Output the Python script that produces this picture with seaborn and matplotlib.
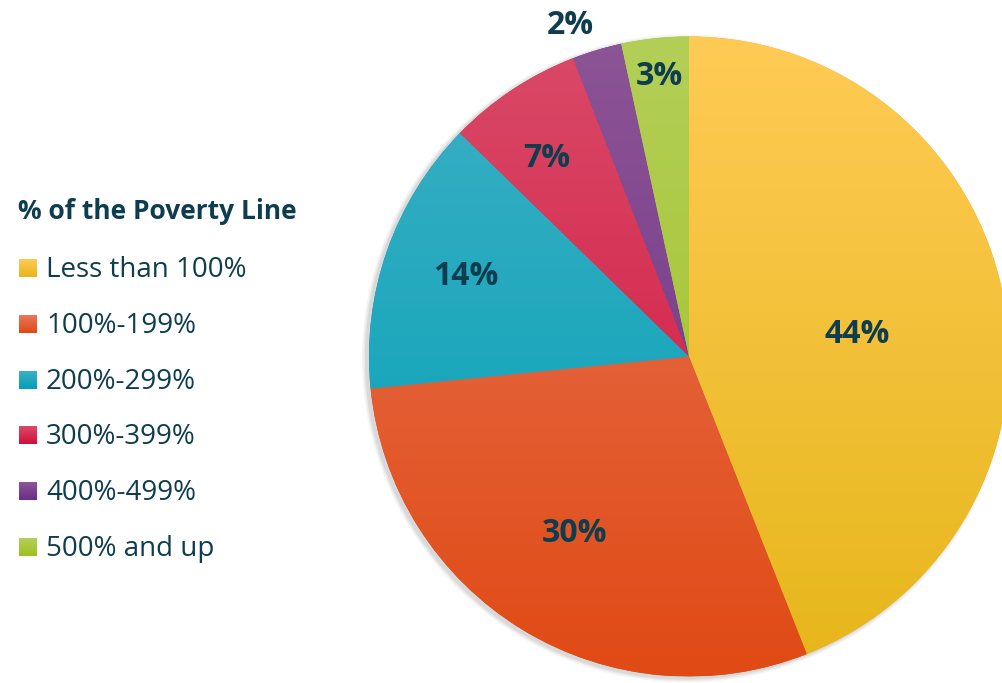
"""
Share of population by % of the poverty line - pie chart with legend.
"""

import numpy as np
import matplotlib.pyplot as plt
import seaborn as sns
from matplotlib.patches import Rectangle, Circle
from matplotlib.colors import LinearSegmentedColormap

sns.set_theme(style="white")
plt.rcParams['font.family'] = ['Open Sans', 'DejaVu Sans']

# Data (slice sizes, labels as printed)
categories = ["Less than 100%", "100%-199%", "200%-299%",
              "300%-399%", "400%-499%", "500% and up"]
shares = [44.0, 29.4, 13.9, 6.8, 2.5, 3.4]
pct_labels = ["44%", "30%", "14%", "7%", "2%", "3%"]
legend_title = "% of the Poverty Line"

# Gradient colours (top -> bottom) for each slice
top_colors = ["#FFCB55", "#E8765A", "#3DB0C4", "#DA4A68", "#8C5595", "#B3CF58"]
bottom_colors = ["#E6B61A", "#E04A14", "#009FB6", "#D0103A", "#6D2D86", "#9EC01E"]
text_color = "#0E3D4F"

# label placement: distance (fraction of radius) and angular nudge (deg)
label_dist = [0.53, 0.66, 0.74, 0.76, 1.10, 0.88]
label_shift = [-3.5, -1.5, -0.5, 2.2, 3.0, 0.0]

fig = plt.figure(figsize=(10.02, 6.83), dpi=100)
ax = fig.add_axes([0, 0, 1, 1])

cx, cy, R = 689, 326.5, 320

# soft shadow
for i, a in enumerate([0.06, 0.08, 0.10]):
    ax.add_patch(Circle((cx - 3, cy - 2), R + 4 - i * 1.5, color="#555555",
                        alpha=a, lw=0, zorder=0))

wedges, _ = ax.pie(shares, startangle=90, counterclock=False,
                   center=(cx, cy), radius=R, colors=bottom_colors,
                   wedgeprops=dict(linewidth=0))

grad = np.linspace(0, 1, 256).reshape(-1, 1)
for w, c_top, c_bot in zip(wedges, top_colors, bottom_colors):
    w.set_zorder(1)
    cmap = LinearSegmentedColormap.from_list("g", [c_bot, c_top])
    im = ax.imshow(grad, cmap=cmap, origin="lower", aspect="auto",
                   extent=(cx - R, cx + R, cy - R, cy + R), zorder=2)
    im.set_clip_path(w)

# percentage labels
for w, lab, d, sh in zip(wedges, pct_labels, label_dist, label_shift):
    theta = np.deg2rad((w.theta1 + w.theta2) / 2 + sh)
    ax.text(cx + d * R * np.cos(theta), cy + d * R * np.sin(theta), lab,
            ha="center", va="center", fontsize=23, fontweight="bold",
            color=text_color, zorder=5)

# legend
ax.text(18, 683 - 219, legend_title, fontsize=19, fontweight="bold",
        color=text_color, ha="left", va="baseline")
sq = np.linspace(0, 1, 32).reshape(-1, 1)
for i, (cat, c_top, c_bot) in enumerate(zip(categories, top_colors, bottom_colors)):
    yc = 683 - (268 + i * 55.8)
    rect = Rectangle((19, yc - 9), 18, 18, lw=0, facecolor=c_bot)
    ax.add_patch(rect)
    cmap = LinearSegmentedColormap.from_list("g", [c_bot, c_top])
    im = ax.imshow(sq, cmap=cmap, origin="lower", aspect="auto",
                   extent=(19, 37, yc - 9, yc + 9), zorder=3)
    im.set_clip_path(rect)
    ax.text(46, yc - 9, cat, fontsize=20, color=text_color,
            ha="left", va="baseline")

ax.set_xlim(0, 1002)
ax.set_ylim(0, 683)
ax.set_aspect("auto")
ax.axis("off")

fig.savefig("out.png", dpi=100)
